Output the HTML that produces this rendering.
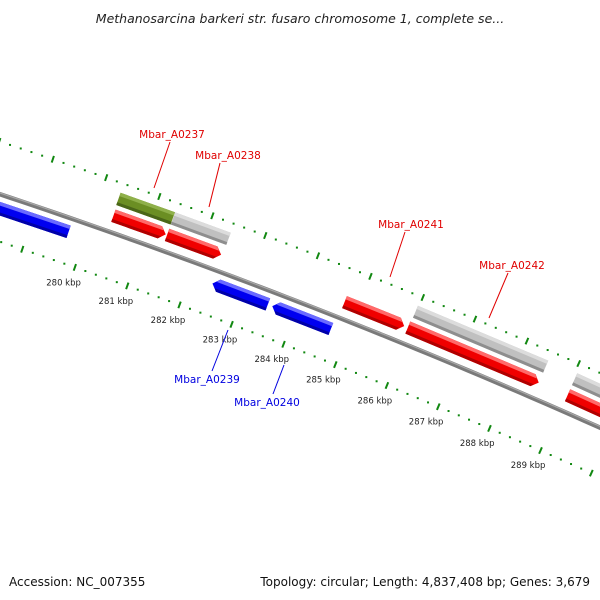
<!DOCTYPE html>
<html><head><meta charset="utf-8"><style>
html,body{margin:0;padding:0;background:#fff;}
svg{display:block;font-family:"DejaVu Sans","Liberation Sans",sans-serif;}
</style></head><body>
<svg id="map" width="600" height="600" viewBox="0 0 600 600" xmlns="http://www.w3.org/2000/svg">
<rect width="600" height="600" fill="#fff"/>
<text x="300" y="23" text-anchor="middle" font-size="12.5" font-style="italic" fill="#222">Methanosarcina barkeri str. fusaro chromosome 1, complete se...</text>
<g id="rings"></g>
<g id="genes"></g>
<g id="labels" font-size="10.5" text-anchor="middle">
  <g><text x="172" y="138" fill="#e00000">Mbar_A0237</text><line x1="170" y1="142" x2="154" y2="188" stroke="#e00000"/></g>
  <g><text x="228" y="159" fill="#e00000">Mbar_A0238</text><line x1="220" y1="163" x2="209" y2="207" stroke="#e00000"/></g>
  <g><text x="207" y="383" fill="#0000e0">Mbar_A0239</text><line x1="212" y1="371" x2="228" y2="330" stroke="#0000e0"/></g>
  <g><text x="267" y="406" fill="#0000e0">Mbar_A0240</text><line x1="273" y1="394" x2="284" y2="365" stroke="#0000e0"/></g>
  <g><text x="411" y="228" fill="#e00000">Mbar_A0241</text><line x1="405" y1="232" x2="390" y2="277" stroke="#e00000"/></g>
  <g><text x="512" y="269" fill="#e00000">Mbar_A0242</text><line x1="508" y1="273" x2="489" y2="318" stroke="#e00000"/></g>
</g>
<text x="9" y="586" font-size="12" fill="#111">Accession: NC_007355</text>
<text x="590" y="586" text-anchor="end" font-size="12" fill="#111">Topology: circular; Length: 4,837,408 bp; Genes: 3,679</text>
</svg>
<script>
// data
const geneStarts = [277500, 280330, 281360, 280345, 281360, 282420, 283565, 284740, 285975, 285955, 289045, 289045];
const geneEnds   = [279685, 281355, 282410, 281335, 282385, 283480, 284690, 285885, 288485, 288485, 292000, 292000];
const geneKinds  = ['rev','green','gray','fwd','fwd','rev','rev','fwd','gray','fwd','gray','fwd'];
const tickStart = 276000;
const tickEnd = 293000;
const tickLabelKbp = [280, 281, 282, 283, 284, 285, 286, 287, 288, 289];

const C = [-2050, 6352];
const NS = 'http://www.w3.org/2000/svg';
function ang(bp){ return (-70.75 + (bp - 280000) / 1000 * 0.4944) * Math.PI / 180; }
function pt(bp, r){ const a = ang(bp); return [C[0] + r * Math.cos(a), C[1] + r * Math.sin(a)]; }
function mk(tag, attrs, parent){ const e = document.createElementNS(NS, tag); for (const k in attrs) e.setAttribute(k, attrs[k]); parent.appendChild(e); return e; }

const rings = document.getElementById('rings');
// backbone
(function(){
  let d = '';
  for (let bp = 275000; bp <= 295000; bp += 250) { const p = pt(bp, 6490); d += (d ? 'L' : 'M') + p[0].toFixed(2) + ',' + p[1].toFixed(2); }
  const g = mk('g', {}, rings);
  
  
  mk('path', {d: d, fill: 'none', stroke: '#7a7a7a', 'stroke-width': 4.5}, g);
  let d2 = '';
  for (let bp = 275000; bp <= 295000; bp += 250) { const p = pt(bp, 6491.2); d2 += (d2 ? 'L' : 'M') + p[0].toFixed(2) + ',' + p[1].toFixed(2); }
  mk('path', {d: d2, fill: 'none', stroke: '#a8a8a8', 'stroke-width': 1.2}, g);
})();

// tick rings
[6445, 6540].forEach(function(r, ri){
  const g = mk('g', {}, rings);
  
  
  for (let bp = tickStart; bp <= tickEnd; bp += 200) {
    const major = (bp % 1000) === 0;
    const a = ang(bp);
    if (major) {
      const p1 = pt(bp, r - 3.5), p2 = pt(bp, r + 3.5);
      const l = mk('line', {x1: p1[0], y1: p1[1], x2: p2[0], y2: p2[1], stroke: '#118811', 'stroke-width': 2}, g);
      
      
    } else {
      const p = pt(bp, r);
      const c = mk('rect', {x: p[0] - 1, y: p[1] - 1, width: 2, height: 2, fill: '#118811'}, g);
      
      
    }
  }
});
// tick labels
tickLabelKbp.forEach(function(k){
  const p = pt(k * 1000, 6429);
  const t = mk('text', {x: p[0] - 6, y: p[1] + 3, 'font-size': 8.5, 'text-anchor': 'middle', fill: '#222'}, rings);
  
  
  t.textContent = k + ' kbp';
});

// genes
const genes = document.getElementById('genes');
const styles = {
  fwd:   {rc: 6506.5, main: '#f00000', light: '#ff6a6a', dark: '#b00000', arrow: 1},
  rev:   {rc: 6476.5, main: '#0000f0', light: '#6a6aff', dark: '#0000a8', arrow: -1},
  gray:  {rc: 6524,   main: '#c0c0c0', light: '#dcdcdc', dark: '#8e8e8e', arrow: 0},
  green: {rc: 6524,   main: '#6b8e23', light: '#8fb04a', dark: '#4a6618', arrow: 0}
};
function poly(pts){ return pts.map(p => p[0].toFixed(2) + ',' + p[1].toFixed(2)).join(' '); }
function shape(s, e, r0, r1, arrow, tipBp){
  // returns polygon points between radii r0..r1 (band), arrow tip at center radius
  const rc = (r0 + r1) / 2;
  if (arrow === 1) {
    const b = e - tipBp;
    return [pt(s, r0), pt(s, r1), pt(b, r1), pt(e, rc), pt(b, r0)];
  } else if (arrow === -1) {
    const b = s + tipBp;
    return [pt(s, rc), pt(b, r1), pt(e, r1), pt(e, r0), pt(b, r0)];
  }
  return [pt(s, r0), pt(s, r1), pt(e, r1), pt(e, r0)];
}
for (let i = 0; i < geneStarts.length; i++) {
  const st = styles[geneKinds[i]];
  const s = geneStarts[i], e = geneEnds[i];
  const h = 13, r0 = st.rc - h / 2, r1 = st.rc + h / 2;
  const tip = 110;
  const g = mk('g', {}, genes);
  
  
  mk('polygon', {points: poly(shape(s, e, r0, r1, st.arrow, tip)), fill: st.main}, g);
  // light top strip
  const lt = shape(s, e, r1 - 3.5, r1, 0, 0);
  if (st.arrow === 1) { lt[2] = pt(e - tip, r1); lt[3] = pt(e - tip * 0.55, r1 - 3.5); }
  if (st.arrow === -1) { lt[0] = pt(s + tip * 0.55, r1 - 3.5); lt[1] = pt(s + tip, r1); }
  mk('polygon', {points: poly(lt), fill: st.light}, g);
  // dark bottom strip
  const dk = shape(s, e, r0, r0 + 3, 0, 0);
  if (st.arrow === 1) { dk[2] = pt(e - tip * 0.6, r0 + 3); dk[3] = pt(e - tip, r0); }
  if (st.arrow === -1) { dk[0] = pt(s + tip, r0); dk[1] = pt(s + tip * 0.6, r0 + 3); }
  mk('polygon', {points: poly(dk), fill: st.dark}, g);
}
</script>
</body></html>
